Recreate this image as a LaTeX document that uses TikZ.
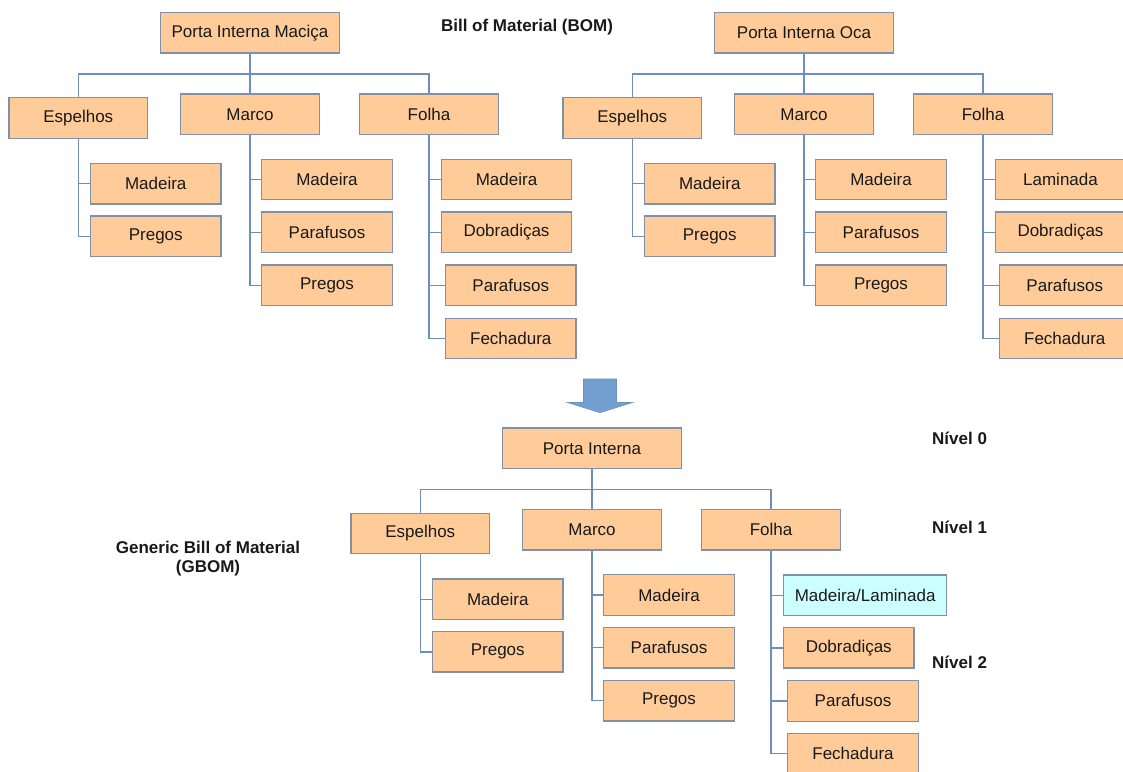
\documentclass[tikz,border=0pt]{standalone}
\usepackage{fontspec}
\setmainfont{Liberation Sans}
\definecolor{boxfill}{HTML}{FFCC99}
\definecolor{boxline}{HTML}{8190A6}
\definecolor{linkcol}{HTML}{6E8EBE}
\definecolor{varfill}{HTML}{CCFFFF}
\definecolor{arrowfill}{HTML}{729FCF}
\definecolor{arrowline}{HTML}{6A92C6}
\tikzset{
  item/.style={draw=boxline, fill=boxfill, line width=1.2pt, inner sep=0pt,
    minimum height=40.5pt, text=black!90,
    font=\fontsize{17}{20}\selectfont},
  rootbox/.style={item, minimum width=179pt},
  groupbox/.style={item, minimum width=138.6pt},
  partbox/.style={item, minimum width=130.5pt},
  varbox/.style={item, fill=varfill, minimum width=163.3pt},
  link/.style={draw=linkcol, line width=1.4pt},
  caption/.style={font=\fontsize{17}{19.5}\selectfont\bfseries, text=black!90, inner sep=0pt},
}
\begin{document}
\begin{tikzpicture}[x=1pt, y=-1pt]
\useasboundingbox (0,0) rectangle (1123,771);
\clip (0,0) rectangle (1123,771);

% ---------- BOM: solid interior door ----------
\node[rootbox]  (r1)  at (250,32.8)    {Porta Interna Maciça};
\node[groupbox] (e1)  at (78.25,118)   {Espelhos};
\node[groupbox] (m1)  at (250,114.3)   {Marco};
\node[groupbox] (f1)  at (429,114.3)   {Folha};
\node[partbox]  (e1a) at (155.75,183.7) {Madeira};
\node[partbox]  (e1b) at (155.75,236.3) {Pregos};
\node[partbox]  (m1a) at (327,179.5)   {Madeira};
\node[partbox]  (m1b) at (327,232.2)   {Parafusos};
\node[partbox]  (m1c) at (327,285.2)   {Pregos};
\node[partbox]  (f1a) at (506.5,179.5) {Madeira};
\node[partbox]  (f1b) at (506.5,232.2) {Dobradiças};
\node[partbox]  (f1c) at (510.75,285.2) {Parafusos};
\node[partbox]  (f1d) at (510.75,338.5) {Fechadura};

\draw[link] (r1.south) -- ++(0,20.5) -| (e1.north);
\draw[link] (r1.south) -- (m1.north);
\draw[link] (r1.south) -- ++(0,20.5) -| (f1.north);
\foreach \c in {e1a,e1b} \draw[link] (e1.south) |- (\c.west);
\foreach \c in {m1a,m1b,m1c} \draw[link] (m1.south) |- (\c.west);
\foreach \c in {f1a,f1b,f1c,f1d} \draw[link] (f1.south) |- (\c.west);

% ---------- BOM: hollow interior door ----------
\node[rootbox]  (r2)  at (804,32.8)    {Porta Interna Oca};
\node[groupbox] (e2)  at (632.25,118)  {Espelhos};
\node[groupbox] (m2)  at (804,114.3)   {Marco};
\node[groupbox] (f2)  at (983,114.3)   {Folha};
\node[partbox]  (e2a) at (709.75,183.7) {Madeira};
\node[partbox]  (e2b) at (709.75,236.3) {Pregos};
\node[partbox]  (m2a) at (881,179.5)   {Madeira};
\node[partbox]  (m2b) at (881,232.2)   {Parafusos};
\node[partbox]  (m2c) at (881,285.2)   {Pregos};
\node[partbox]  (f2a) at (1060.5,179.5) {Laminada};
\node[partbox]  (f2b) at (1060.5,232.2) {Dobradiças};
\node[partbox]  (f2c) at (1064.75,285.2) {Parafusos};
\node[partbox]  (f2d) at (1064.75,338.5) {Fechadura};

\draw[link] (r2.south) -- ++(0,20.5) -| (e2.north);
\draw[link] (r2.south) -- (m2.north);
\draw[link] (r2.south) -- ++(0,20.5) -| (f2.north);
\foreach \c in {e2a,e2b} \draw[link] (e2.south) |- (\c.west);
\foreach \c in {m2a,m2b,m2c} \draw[link] (m2.south) |- (\c.west);
\foreach \c in {f2a,f2b,f2c,f2d} \draw[link] (f2.south) |- (\c.west);

\node[caption] (bom) at (527,27) {Bill of Material (BOM)};

% ---------- downward block arrow ----------
\fill[arrowfill, draw=arrowline, line width=0.6pt]
  (583.5,379) -- (616.5,379) -- (616.5,402.5) -- (632.5,402.5) --
  (600,412.7) -- (567.5,402.5) -- (583.5,402.5) -- cycle;

% ---------- GBOM: generic interior door ----------
\node[rootbox]  (r3)  at (592,448.3)   {Porta Interna};
\node[groupbox] (e3)  at (420.25,533.5) {Espelhos};
\node[groupbox] (m3)  at (592,529.8)   {Marco};
\node[groupbox] (f3)  at (771,529.8)   {Folha};
\node[partbox]  (e3a) at (497.75,599.2) {Madeira};
\node[partbox]  (e3b) at (497.75,651.8) {Pregos};
\node[partbox]  (m3a) at (669,595)     {Madeira};
\node[partbox]  (m3b) at (669,647.7)   {Parafusos};
\node[partbox]  (m3c) at (669,700.7)   {Pregos};
\node[varbox]   (f3a) at (865.15,595.2) {Madeira/Laminada};
\node[partbox]  (f3b) at (848.75,647.8) {Dobradiças};
\node[partbox]  (f3c) at (853,700.85)  {Parafusos};
\node[partbox]  (f3d) at (853,753.6)   {Fechadura};

\draw[link] (r3.south) -- ++(0,20.5) -| (e3.north);
\draw[link] (r3.south) -- (m3.north);
\draw[link] (r3.south) -- ++(0,20.5) -| (f3.north);
\foreach \c in {e3a,e3b} \draw[link] (e3.south) |- (\c.west);
\foreach \c in {m3a,m3b,m3c} \draw[link] (m3.south) |- (\c.west);
\foreach \c in {f3a,f3b,f3c,f3d} \draw[link] (f3.south) |- (\c.west);

% ---------- level labels and caption ----------
\node[caption, anchor=west] (lv0) at (932,438)   {Nível 0};
\node[caption, anchor=west] (lv1) at (932,527.3) {Nível 1};
\node[caption, anchor=west] (lv2) at (932,662.3) {Nível 2};
\node[caption, align=center] (gbom) at (208,558.5) {Generic Bill of Material\\(GBOM)};
\end{tikzpicture}
\end{document}
